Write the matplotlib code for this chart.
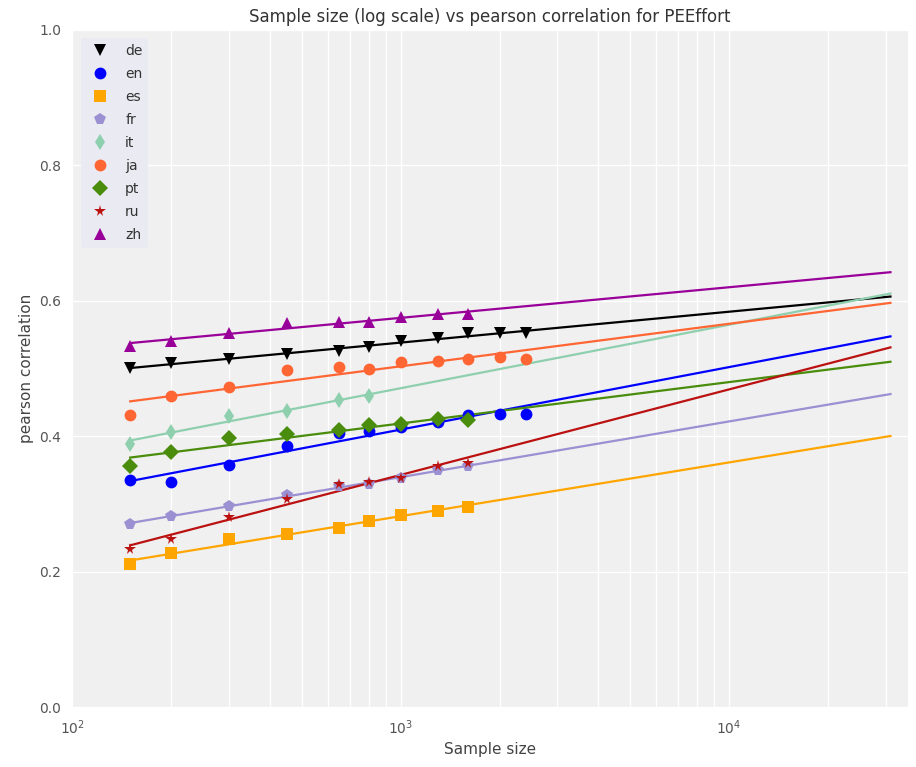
import numpy as np
import matplotlib
matplotlib.use("Agg")
import matplotlib.pyplot as plt

sizes = [150, 200, 300, 450, 650, 800, 1000, 1300, 1600, 2000, 2400]

langs = ["de", "en", "es", "fr", "it", "ja", "pt", "ru", "zh"]

de = [0.501, 0.508, 0.514, 0.522, 0.526, 0.532, 0.540, 0.545, 0.552, 0.553, 0.552]
en = [0.335, 0.332, 0.357, 0.385, 0.405, 0.408, 0.414, 0.421, 0.431, 0.433, 0.433]
es = [0.211, 0.227, 0.248, 0.255, 0.265, 0.275, 0.284, 0.290, 0.296]
fr = [0.271, 0.282, 0.297, 0.313, 0.326, 0.329, 0.339, 0.350, 0.356]
it = [0.388, 0.407, 0.430, 0.438, 0.453, 0.459]
ja = [0.432, 0.459, 0.473, 0.498, 0.503, 0.500, 0.510, 0.511, 0.514, 0.517, 0.514]
pt = [0.356, 0.377, 0.398, 0.403, 0.409, 0.416, 0.418, 0.425, 0.424]
ru = [0.233, 0.249, 0.281, 0.308, 0.329, 0.333, 0.339, 0.356, 0.361]
zh = [0.534, 0.541, 0.553, 0.567, 0.568, 0.568, 0.576, 0.580, 0.580]

values = [de, en, es, fr, it, ja, pt, ru, zh]
markers = ["v", "o", "s", "p", "d", "o", "D", "*", "^"]
colors = ["#000000", "#0000ff", "#ffa500", "#9a90d2", "#8ecfae",
          "#ff6633", "#4a8c0c", "#bb1111", "#990099"]

fit_range = [150, 31000]
x_limits = [100, 35000]

fig = plt.figure(figsize=(9.16, 7.67), dpi=100)
ax = fig.add_axes([0.079, 0.078, 0.912, 0.883])
ax.set_facecolor("#f0f0f0")
for s in ax.spines.values():
    s.set_visible(False)

for lab, vals, mk, col in zip(langs, values, markers, colors):
    xs = np.array(sizes[:len(vals)], dtype=float)
    ys = np.array(vals)
    ax.plot(xs, ys, linestyle="none", marker=mk, color=col, markersize=8.5,
            markeredgewidth=0, label=lab, zorder=3)
    b, a = np.polyfit(np.log10(xs), ys, 1)
    lx = np.array(fit_range, dtype=float)
    ax.plot(lx, a + b * np.log10(lx), color=col, linewidth=1.6, zorder=2)

ax.set_xscale("log")
ax.set_xlim(*x_limits)
ax.set_ylim(0.0, 1.0)
ax.set_yticks([0.0, 0.2, 0.4, 0.6, 0.8, 1.0])
ax.grid(True, which="major", color="white", linewidth=1.0)
ax.grid(True, which="minor", axis="x", color="white", linewidth=1.0)
ax.set_axisbelow(True)
ax.tick_params(which="both", length=0, labelsize=10, colors="#555555", pad=8)

ax.set_title("Sample size (log scale) vs pearson correlation for PEEffort",
             fontsize=12, color="#333333")
ax.set_xlabel("Sample size", fontsize=11, color="#444444")
ax.set_ylabel("pearson correlation", fontsize=11, color="#444444")

leg = ax.legend(loc="upper left", numpoints=1, fontsize=10, frameon=True,
                facecolor="#eaeaf2", edgecolor="none", framealpha=1,
                labelspacing=0.65, borderaxespad=0.6)
for t in leg.get_texts():
    t.set_color("#333333")

fig.savefig("out.png", dpi=100, facecolor="white")
